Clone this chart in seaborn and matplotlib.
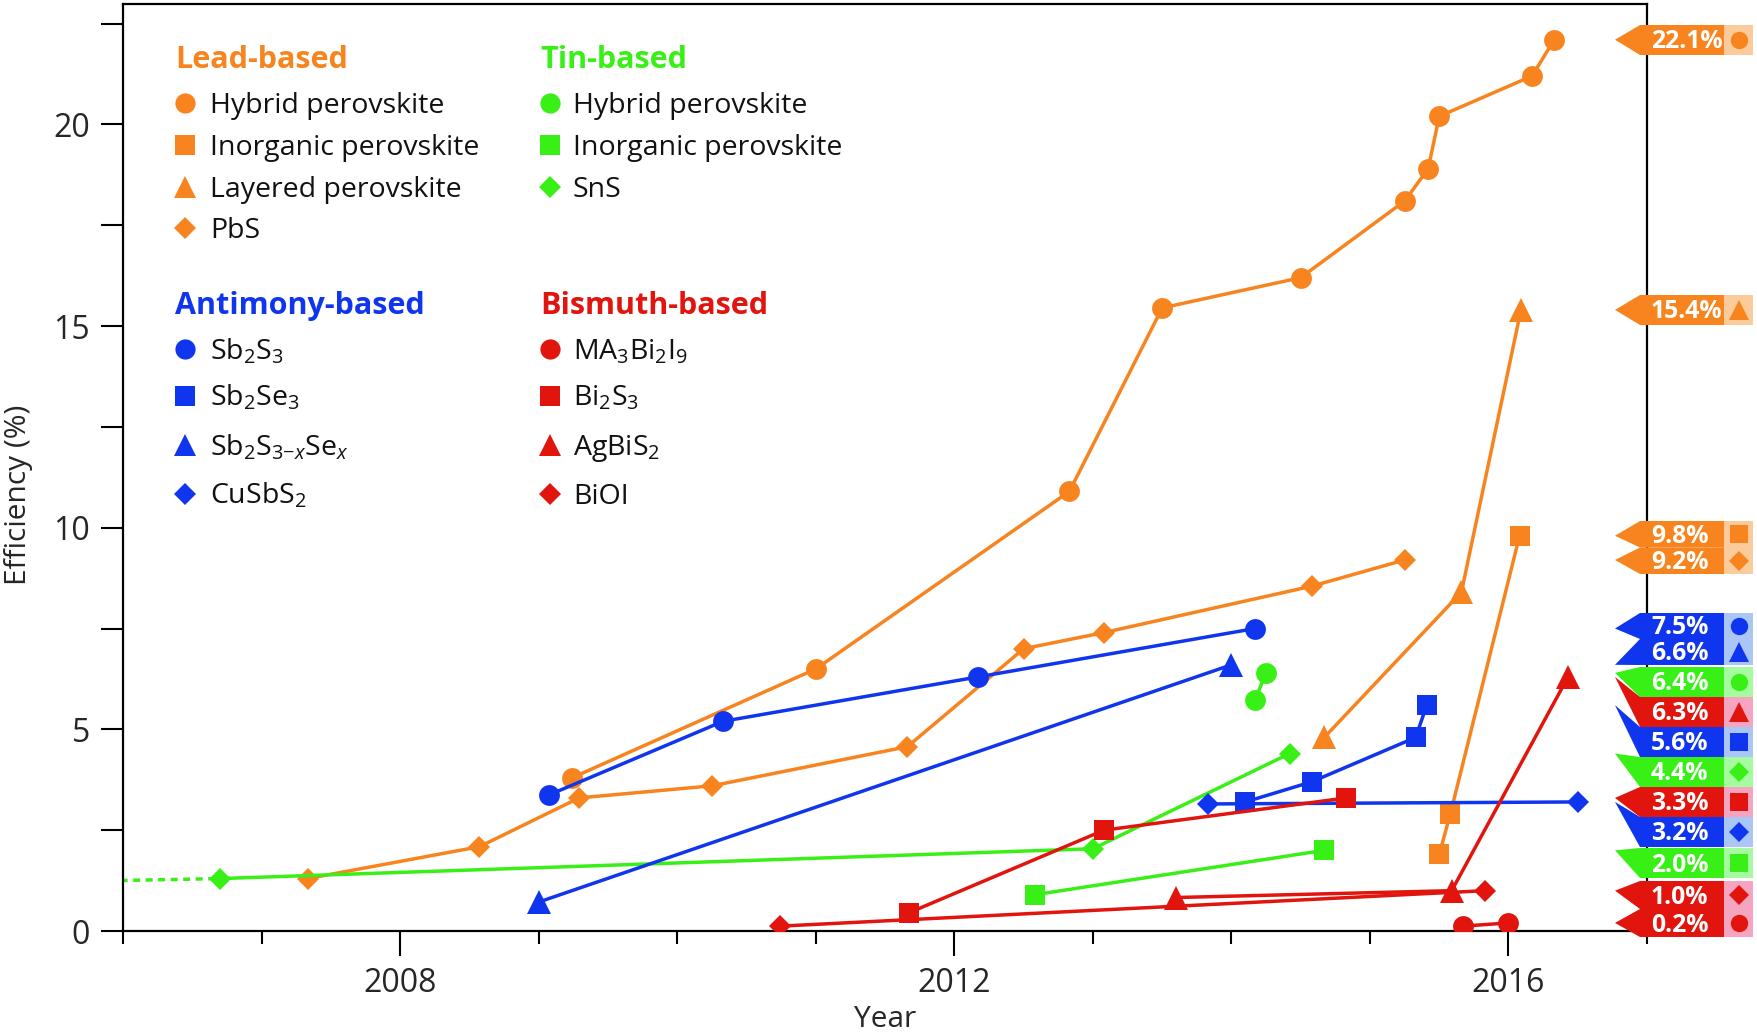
import matplotlib
matplotlib.use("Agg")
import matplotlib.pyplot as plt
import seaborn as sns
import numpy as np
import pandas as pd
from matplotlib.lines import Line2D
from matplotlib.patches import Polygon, Rectangle
from matplotlib.transforms import IdentityTransform

# ---------------- data ----------------
pb_hybrid_x = [2009.24, 2011.0, 2012.83, 2013.5, 2014.5, 2015.25, 2015.42, 2015.5, 2016.17, 2016.33]
pb_hybrid_y = [3.8, 6.5, 10.9, 15.45, 16.2, 18.1, 18.9, 20.2, 21.2, 22.1]
pb_inorg_x = [2015.5, 2015.58, 2016.08]
pb_inorg_y = [1.9, 2.9, 9.8]
pb_layer_x = [2014.67, 2015.66, 2016.09]
pb_layer_y = [4.8, 8.4, 15.4]
pbs_x = [2007.33, 2008.57, 2009.29, 2010.25, 2011.66, 2012.5, 2013.08, 2014.58, 2015.25]
pbs_y = [1.3, 2.09, 3.3, 3.6, 4.57, 7.0, 7.4, 8.55, 9.2]

sn_hybrid_x = [2014.17, 2014.25]
sn_hybrid_y = [5.73, 6.4]
sn_inorg_x = [2012.58, 2014.67]
sn_inorg_y = [0.9, 2.0]
sns_x = [2006.7, 2013.0, 2014.42]
sns_y = [1.3, 2.04, 4.4]
sns_early_x = [2005.8, 2006.7]
sns_early_y = [1.24, 1.3]

sb2s3_x = [2009.07, 2010.33, 2012.17, 2014.17]
sb2s3_y = [3.37, 5.2, 6.3, 7.5]
sb2se3_x = [2014.1, 2014.58, 2015.33, 2015.41]
sb2se3_y = [3.2, 3.7, 4.8, 5.6]
sbsse_x = [2009.0, 2014.0]
sbsse_y = [0.72, 6.6]
cusbs2_x = [2013.83, 2016.5]
cusbs2_y = [3.15, 3.2]

mabi_x = [2015.67, 2016.0]
mabi_y = [0.12, 0.2]
bi2s3_x = [2011.67, 2013.08, 2014.83]
bi2s3_y = [0.45, 2.5, 3.3]
agbis2_x = [2013.6, 2015.59, 2016.43]
agbis2_y = [0.83, 1.0, 6.3]
bioi_x = [2010.74, 2015.83]
bioi_y = [0.12, 1.0]

group_names = ["Lead-based", "Tin-based", "Antimony-based", "Bismuth-based"]
lead_labels = ["Hybrid perovskite", "Inorganic perovskite", "Layered perovskite", "PbS"]
tin_labels = ["Hybrid perovskite", "Inorganic perovskite", "SnS"]
sb_labels = [r"Sb$_2$S$_3$", r"Sb$_2$Se$_3$", r"Sb$_2$S$_{3\mathrm{-}x}$Se$_x$", r"CuSbS$_2$"]
bi_labels = [r"MA$_3$Bi$_2$I$_9$", r"Bi$_2$S$_3$", r"AgBiS$_2$", r"BiOI"]

year_ticks = [2008, 2012, 2016]
eff_ticks = [0, 5, 10, 15, 20]

# ---------------- styles ----------------
ORANGE = "#F7841E"
GREEN = "#38F016"
BLUE = "#1035EE"
RED = "#E2140E"
LIGHT = {ORANGE: "#FCCB9B", GREEN: "#A6FBA0", BLUE: "#A9C6F6", RED: "#F5A5BF"}
MS = {"o": 15.0, "s": 15.0, "^": 17.0, "D": 11.3}
TAG_MS = {"o": 12.5, "s": 12.5, "^": 15.0, "D": 10.5}

sns.set_theme(style="ticks")
plt.rcParams["font.family"] = ["Open Sans", "DejaVu Sans"]
plt.rcParams["mathtext.fontset"] = "custom"
plt.rcParams["mathtext.rm"] = "Open Sans"
plt.rcParams["mathtext.it"] = "Open Sans:italic"
plt.rcParams["mathtext.bf"] = "Open Sans:bold"

W, H = 1757, 1034
fig = plt.figure(figsize=(W / 100, H / 100), dpi=100)
ax = fig.add_axes([123.4 / W, 1 - 931 / H, (1647 - 123.4) / W, (931 - 4) / H])

series = [
    (pb_hybrid_x, pb_hybrid_y, ORANGE, "o"),
    (pb_inorg_x, pb_inorg_y, ORANGE, "s"),
    (pb_layer_x, pb_layer_y, ORANGE, "^"),
    (pbs_x, pbs_y, ORANGE, "D"),
    (sn_hybrid_x, sn_hybrid_y, GREEN, "o"),
    (sn_inorg_x, sn_inorg_y, GREEN, "s"),
    (sns_x, sns_y, GREEN, "D"),
    (sb2s3_x, sb2s3_y, BLUE, "o"),
    (sb2se3_x, sb2se3_y, BLUE, "s"),
    (sbsse_x, sbsse_y, BLUE, "^"),
    (cusbs2_x, cusbs2_y, BLUE, "D"),
    (mabi_x, mabi_y, RED, "o"),
    (bi2s3_x, bi2s3_y, RED, "s"),
    (agbis2_x, agbis2_y, RED, "^"),
    (bioi_x, bioi_y, RED, "D"),
]

ax.plot(sns_early_x, sns_early_y, color=GREEN, lw=2.5, ls=(0, (2.0, 1.6)), zorder=2)
for xs, ys, col, mk in series:
    df = pd.DataFrame({"Year": xs, "Eff": ys})
    sns.lineplot(data=df, x="Year", y="Eff", ax=ax, color=col, marker=mk,
                 markersize=MS[mk], markeredgewidth=0, linewidth=2.5,
                 sort=False, estimator=None, zorder=3)

ax.set_xlim(2006, 2017)
ax.set_ylim(0, 927 / 40.33)
ax.set_xticks(year_ticks)
ax.set_xticklabels([str(t) for t in year_ticks])
ax.set_xticks(np.arange(2006, 2018, 1), minor=True)
yt = np.arange(0, 23, 2.5)
ax.set_yticks(yt)
ax.set_yticklabels([("%d" % v if v in eff_ticks else "") for v in yt])
ax.tick_params(axis="x", which="major", length=18, width=1.5, pad=8, labelsize=23, color="black")
ax.tick_params(axis="x", which="minor", length=9, width=1.5, color="black")
ax.tick_params(axis="y", which="major", length=16, width=1.5, pad=8, labelsize=23, color="black")
for s in ax.spines.values():
    s.set_linewidth(1.6)
    s.set_color("black")
ax.set_xlabel("Year", fontsize=21.5)
ax.set_ylabel("Efficiency (%)", fontsize=21.5)
ax.xaxis.set_label_coords(0.5, -0.080)
ax.yaxis.set_label_coords(-0.0593, 0.47)
ax.grid(False)

# ---------------- in-plot legend ----------------
def fx(x):
    return x / W

def fy(y):
    return 1 - y / H

legend_blocks = [
    (ORANGE, group_names[0], 175, 57, 185, 210, [("o", lead_labels[0], 103), ("s", lead_labels[1], 145),
                                                  ("^", lead_labels[2], 187), ("D", lead_labels[3], 228)]),
    (GREEN, group_names[1], 540, 57, 550, 573, [("o", tin_labels[0], 103), ("s", tin_labels[1], 145),
                                                 ("D", tin_labels[2], 187)]),
    (BLUE, group_names[2], 175, 303, 185, 210, [("o", sb_labels[0], 349), ("s", sb_labels[1], 396),
                                                 ("^", sb_labels[2], 445), ("D", sb_labels[3], 494)]),
    (RED, group_names[3], 540, 303, 550, 573, [("o", bi_labels[0], 349), ("s", bi_labels[1], 396),
                                                ("^", bi_labels[2], 445), ("D", bi_labels[3], 494)]),
]
for col, head, hx, hy, mx, tx, items in legend_blocks:
    fig.text(fx(hx), fy(hy + 11), head, color=col, fontsize=22, fontweight="bold", va="baseline", ha="left")
    for mk, lab, yy in items:
        fig.add_artist(Line2D([fx(mx)], [fy(yy)], transform=fig.transFigure, marker=mk,
                              markersize=MS[mk] * 0.97, color=col, markeredgewidth=0, linestyle="none"))
        fig.text(fx(tx), fy(yy + 10), lab, color="#111111", fontsize=20.5, va="baseline", ha="left")

# ---------------- right-hand tags ----------------
fig.canvas.draw()
order = sorted(range(len(series)), key=lambda i: -series[i][1][-1])
row_tops = [25, 295, 521, 547.5, 613, 639, 667, 697, 727, 757, 787, 817, 848, 881, 909]
row_hts = [30, 30, 26.5, 26.5, 26, 26, 30, 30, 30, 30, 30, 30, 30, 28, 28]
APEX_X, RECT_X0, RECT_X1, BOX_X1 = 1615, 1640, 1724, 1753
for k, i in enumerate(order):
    xs, ys, col, mk = series[i]
    val = ys[-1]
    apex = ax.transData.transform((2016.0, val))[1]
    top = H - row_tops[k]
    bot = H - (row_tops[k] + row_hts[k])
    poly = Polygon([(APEX_X, apex), (RECT_X0, top), (RECT_X1, top), (RECT_X1, bot), (RECT_X0, bot)],
                   closed=True, facecolor=col, edgecolor="none", transform=IdentityTransform())
    fig.add_artist(poly)
    box = Rectangle((RECT_X1, bot), BOX_X1 - RECT_X1, top - bot, facecolor=LIGHT[col],
                    edgecolor="none", transform=IdentityTransform())
    fig.add_artist(box)
    cy = (top + bot) / 2
    fig.add_artist(Line2D([(RECT_X1 + BOX_X1) / 2], [cy], transform=IdentityTransform(), marker=mk,
                          markersize=TAG_MS[mk], color=col, markeredgewidth=0, linestyle="none"))
    fig.text(fx(1651), (cy - 8.5) / H, "%.1f%%" % val, color="white", fontsize=17.8,
             fontweight="bold", va="baseline", ha="left")

fig.savefig("out.png", dpi=100)
